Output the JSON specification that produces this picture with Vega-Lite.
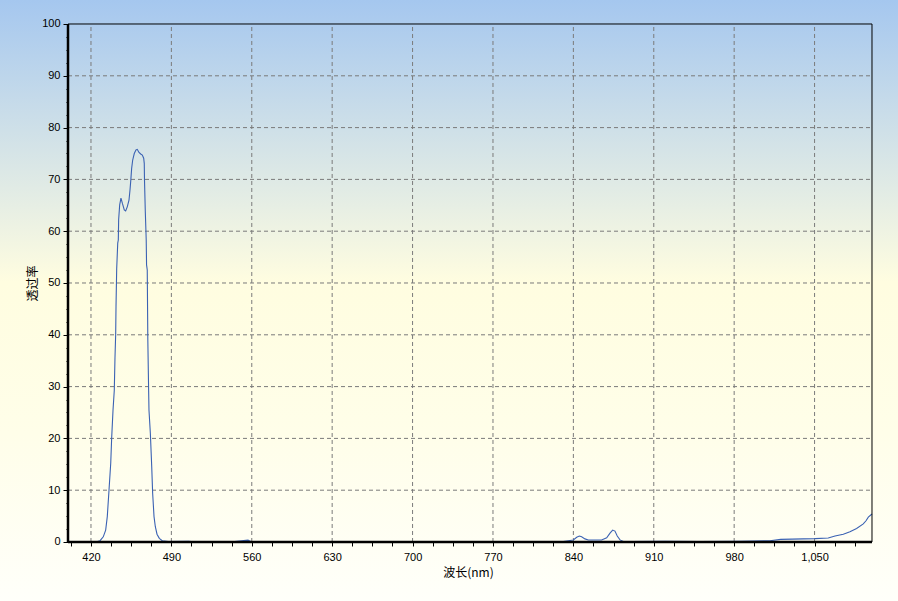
{
  "$schema": "https://vega.github.io/schema/vega-lite/v6.json",
  "width": 898,
  "height": 601,
  "autosize": {"type": "none"},
  "padding": 0,
  "background": "#fffff8",
  "config": {
    "view": {
      "stroke": null,
      "fill": {"gradient": "linear", "x1": 0, "y1": 0, "x2": 0, "y2": 1,
        "stops": [
          {"offset": 0, "color": "#a5c7ef"},
          {"offset": 0.47, "color": "#fffde0"},
          {"offset": 0.72, "color": "#fffee9"},
          {"offset": 1, "color": "#fffffa"}
        ]}
    }
  },
  "resolve": {"axis": {"x": "independent", "y": "independent"}},
  "datasets": {
    "spectrum": [
      {"wl": 420, "t": 0}, {"wl": 424, "t": 0}, {"wl": 427.9, "t": 0.25}, {"wl": 430.7, "t": 1.0},
      {"wl": 432.8, "t": 2.3}, {"wl": 434.2, "t": 4.9}, {"wl": 435.7, "t": 10}, {"wl": 437.2, "t": 15.2},
      {"wl": 438, "t": 20}, {"wl": 439.2, "t": 25.5}, {"wl": 440.3, "t": 29.3}, {"wl": 440.9, "t": 35.5},
      {"wl": 441.5, "t": 40}, {"wl": 441.8, "t": 45.4}, {"wl": 442.4, "t": 52.8}, {"wl": 443.3, "t": 57.7},
      {"wl": 443.8, "t": 58.3}, {"wl": 444.1, "t": 62.2}, {"wl": 445, "t": 65.1}, {"wl": 446.1, "t": 66.4},
      {"wl": 447.3, "t": 65.4}, {"wl": 449, "t": 64.1}, {"wl": 450.2, "t": 63.9}, {"wl": 451.6, "t": 64.7},
      {"wl": 453.1, "t": 66}, {"wl": 454, "t": 68}, {"wl": 454.8, "t": 70.2}, {"wl": 455.4, "t": 72.1},
      {"wl": 456.3, "t": 73.7}, {"wl": 457.7, "t": 75}, {"wl": 459.2, "t": 75.7}, {"wl": 460.3, "t": 75.8},
      {"wl": 461.8, "t": 75.2}, {"wl": 463.3, "t": 74.9}, {"wl": 464.7, "t": 74.7}, {"wl": 465.9, "t": 74.1},
      {"wl": 466.4, "t": 73.1}, {"wl": 466.6, "t": 69.9}, {"wl": 467.3, "t": 63.8}, {"wl": 468.1, "t": 58.3},
      {"wl": 468.4, "t": 53.5}, {"wl": 469, "t": 52.5}, {"wl": 469.5, "t": 39}, {"wl": 470.2, "t": 29.3},
      {"wl": 470.5, "t": 25.5}, {"wl": 471.7, "t": 21}, {"wl": 472.9, "t": 14.5}, {"wl": 473.7, "t": 9.4},
      {"wl": 474.9, "t": 4.9}, {"wl": 476, "t": 3.0}, {"wl": 477.5, "t": 1.5}, {"wl": 479.5, "t": 0.7},
      {"wl": 482.1, "t": 0.25}, {"wl": 487.3, "t": 0.1}, {"wl": 505, "t": 0.15}, {"wl": 512, "t": 0},
      {"wl": 530, "t": 0.1}, {"wl": 545, "t": 0.1}, {"wl": 556.7, "t": 0.35}, {"wl": 560, "t": 0},
      {"wl": 600, "t": 0.05}, {"wl": 700, "t": 0}, {"wl": 800, "t": 0.05}, {"wl": 831.2, "t": 0.1},
      {"wl": 840, "t": 0.4}, {"wl": 842.9, "t": 0.9}, {"wl": 845.2, "t": 1.15}, {"wl": 847.2, "t": 1.0},
      {"wl": 850.1, "t": 0.6}, {"wl": 853, "t": 0.4}, {"wl": 864.6, "t": 0.4}, {"wl": 869, "t": 0.8},
      {"wl": 871.9, "t": 1.7}, {"wl": 874.2, "t": 2.3}, {"wl": 876.2, "t": 2.1}, {"wl": 878.2, "t": 1.15},
      {"wl": 880.6, "t": 0.4}, {"wl": 883.5, "t": 0.1}, {"wl": 890, "t": 0.1}, {"wl": 920, "t": 0.15},
      {"wl": 950, "t": 0.1}, {"wl": 985, "t": 0.15}, {"wl": 1011.2, "t": 0.25}, {"wl": 1020.5, "t": 0.5},
      {"wl": 1050.4, "t": 0.65}, {"wl": 1061.9, "t": 0.77}, {"wl": 1067.8, "t": 1.16}, {"wl": 1075, "t": 1.5},
      {"wl": 1080.8, "t": 2.0}, {"wl": 1086.6, "t": 2.6}, {"wl": 1092.4, "t": 3.5}, {"wl": 1094.8, "t": 4.1},
      {"wl": 1096.8, "t": 4.8}, {"wl": 1100, "t": 5.4}
    ],
    "vgrid": [{"g": 420}, {"g": 490}, {"g": 560}, {"g": 630}, {"g": 700}, {"g": 770}, {"g": 840}, {"g": 910}, {"g": 980}, {"g": 1050}],
    "hgrid": [{"g": 10}, {"g": 20}, {"g": 30}, {"g": 40}, {"g": 50}, {"g": 60}, {"g": 70}, {"g": 80}, {"g": 90}],
    "one": [{}]
  },
  "layer": [
    {
      "data": {"name": "vgrid"},
      "mark": {"type": "rule", "color": "#7a7a7a", "strokeWidth": 1, "strokeDash": [4, 3]},
      "encoding": {
        "x": {"field": "g", "type": "quantitative", "scale": {"domain": [340.796, 1122.637], "nice": false, "zero": false}, "axis": null},
        "y": {"datum": 0, "type": "quantitative", "scale": {"domain": [-11.39, 104.633], "nice": false, "zero": false}, "axis": null},
        "y2": {"datum": 100}
      }
    },
    {
      "data": {"name": "hgrid"},
      "mark": {"type": "rule", "color": "#7a7a7a", "strokeWidth": 1, "strokeDash": [4, 3]},
      "encoding": {
        "y": {"field": "g", "type": "quantitative", "scale": {"domain": [-11.39, 104.633], "nice": false, "zero": false}, "axis": null},
        "x": {"datum": 400, "type": "quantitative", "scale": {"domain": [340.796, 1122.637], "nice": false, "zero": false}, "axis": null},
        "x2": {"datum": 1100}
      }
    },
    {
      "data": {"name": "spectrum"},
      "mark": {"type": "line", "color": "#3b62b3", "strokeWidth": 1.1, "interpolate": "linear"},
      "encoding": {
        "x": {
          "field": "wl", "type": "quantitative",
          "scale": {"domain": [340.796, 1122.637], "nice": false, "zero": false},
          "axis": {
            "orient": "bottom", "offset": -59, "domain": false, "grid": false,
            "values": [402.5, 420, 437.5, 455, 472.5, 490, 507.5, 525, 542.5, 560, 577.5, 595, 612.5, 630, 647.5, 665, 682.5, 700, 717.5, 735, 752.5, 770, 787.5, 805, 822.5, 840, 857.5, 875, 892.5, 910, 927.5, 945, 962.5, 980, 997.5, 1015, 1032.5, 1050, 1067.5, 1085],
            "labelExpr": "((datum.value - 420) % 70 === 0) ? format(datum.value, ',') : ''",
            "tickColor": "black", "tickSize": 4, "tickWidth": 1,
            "labelFont": "Liberation Sans", "labelFontSize": 11, "labelColor": "black", "labelPadding": 5,
            "labelOverlap": false, "labelFlush": false,
            "title": "波长(nm)", "titleFont": "Noto Sans CJK SC", "titleFontSize": 12, "titleFontWeight": "normal",
            "titleColor": "black", "titleX": 468, "titleY": 25, "titleBaseline": "top", "titleAlign": "center"
          }
        },
        "y": {
          "field": "t", "type": "quantitative",
          "scale": {"domain": [-11.39, 104.633], "nice": false, "zero": false},
          "axis": {
            "orient": "left", "offset": -68, "domain": false, "grid": false,
            "values": [0, 2.5, 5, 7.5, 10, 12.5, 15, 17.5, 20, 22.5, 25, 27.5, 30, 32.5, 35, 37.5, 40, 42.5, 45, 47.5, 50, 52.5, 55, 57.5, 60, 62.5, 65, 67.5, 70, 72.5, 75, 77.5, 80, 82.5, 85, 87.5, 90, 92.5, 95, 97.5, 100],
            "labelExpr": "(datum.value % 10 === 0) ? datum.label : ''",
            "tickColor": "black", "tickWidth": 1,
            "tickSize": {"condition": {"test": "datum.value % 10 === 0", "value": 5}, "value": 2},
            "labelFont": "Liberation Sans", "labelFontSize": 11, "labelColor": "black", "labelPadding": 3,
            "labelOverlap": false, "labelFlush": false,
            "title": "透过率", "titleFont": "Noto Sans CJK SC", "titleFontSize": 12, "titleFontWeight": "normal",
            "titleColor": "black", "titleX": -29, "titleY": 283, "titleAngle": -90, "titleBaseline": "bottom", "titleAlign": "center"
          }
        }
      }
    },
    {
      "data": {"name": "one"},
      "mark": {"type": "rule", "color": "black", "strokeWidth": 1},
      "encoding": {
        "x": {"datum": 400, "type": "quantitative", "scale": {"domain": [340.796, 1122.637], "nice": false, "zero": false}, "axis": null},
        "x2": {"datum": 1100},
        "y": {"datum": 100, "type": "quantitative", "scale": {"domain": [-11.39, 104.633], "nice": false, "zero": false}, "axis": null}
      }
    },
    {
      "data": {"name": "one"},
      "mark": {"type": "rule", "color": "black", "strokeWidth": 1},
      "encoding": {
        "x": {"datum": 1100, "type": "quantitative", "scale": {"domain": [340.796, 1122.637], "nice": false, "zero": false}, "axis": null},
        "y": {"datum": 0, "type": "quantitative", "scale": {"domain": [-11.39, 104.633], "nice": false, "zero": false}, "axis": null},
        "y2": {"datum": 100}
      }
    },
    {
      "data": {"name": "one"},
      "mark": {"type": "rule", "color": "black", "strokeWidth": 2.5},
      "encoding": {
        "x": {"datum": 400, "type": "quantitative", "scale": {"domain": [340.796, 1122.637], "nice": false, "zero": false}, "axis": null},
        "y": {"datum": 0, "type": "quantitative", "scale": {"domain": [-11.39, 104.633], "nice": false, "zero": false}, "axis": null},
        "y2": {"datum": 100}
      }
    },
    {
      "data": {"name": "one"},
      "mark": {"type": "rule", "color": "black", "strokeWidth": 2.5},
      "encoding": {
        "x": {"datum": 400, "type": "quantitative", "scale": {"domain": [340.796, 1122.637], "nice": false, "zero": false}, "axis": null},
        "x2": {"datum": 1100},
        "y": {"datum": 0, "type": "quantitative", "scale": {"domain": [-11.39, 104.633], "nice": false, "zero": false}, "axis": null}
      }
    }
  ]
}
